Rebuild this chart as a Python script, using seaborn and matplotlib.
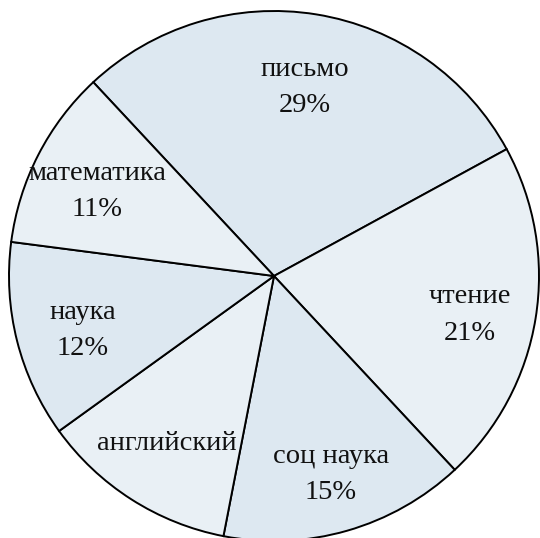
import numpy as np
import matplotlib.pyplot as plt
import seaborn as sns

# данные
subjects = ["письмо", "чтение", "соц наука", "английский", "наука", "математика"]
shares = [29, 21, 15, 12, 12, 11]
show_pct = [True, True, True, False, True, True]

colors = ["#dde8f1", "#e9f0f5", "#dde8f1", "#e9f0f5", "#dde8f1", "#e9f0f5"]
# положение подписей: доля радиуса и сдвиг угла (градусы)
label_r = [0.72, 0.755, 0.78, 0.75, 0.75, 0.74]
label_da = [0, -2, 0, 0, 1.7, 1.7]

sns.set_style("white")
plt.rcParams["font.family"] = ["Liberation Serif", "DejaVu Serif"]

fig = plt.figure(figsize=(5.40, 5.38), dpi=100)
ax = fig.add_axes([9 / 540, -3 / 538, 530 / 540, 530 / 538])

wedges, _ = ax.pie(shares, colors=colors, startangle=133, counterclock=False,
                   radius=1, wedgeprops={"edgecolor": "black", "linewidth": 1.4})
for w in wedges:
    w.set_clip_on(False)

for w, name, v, show, r, da in zip(wedges, subjects, shares, show_pct, label_r, label_da):
    mid = np.deg2rad((w.theta1 + w.theta2) / 2 + da)
    x, y = r * np.cos(mid), r * np.sin(mid)
    txt = f"{name}\n{v}%" if show else name
    ax.text(x, y, txt, ha="center", va="center", fontsize=20.5,
            linespacing=1.6, color="#111111")

ax.set_xlim(-1, 1)
ax.set_ylim(-1, 1)
ax.set_aspect("equal")
ax.axis("off")

fig.savefig("out.png", dpi=100)
